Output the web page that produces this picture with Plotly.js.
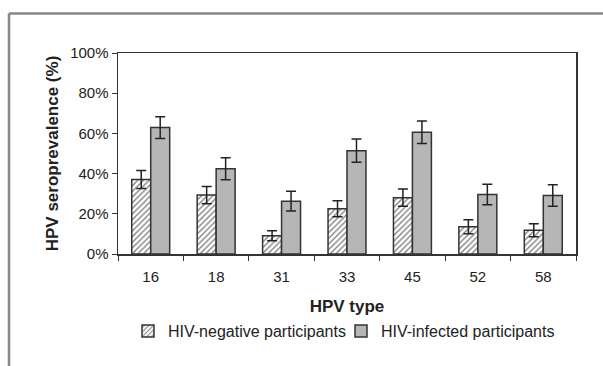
<!DOCTYPE html>
<html>
<head>
<meta charset="utf-8">
<script src="https://cdn.plot.ly/plotly-3.0.1.min.js"></script>
<style>html,body{margin:0;padding:0;background:#fff;}#chart{width:603px;height:366px;}</style>
</head>
<body>
<div id="chart"></div>
<script>
const hpvTypes = ['16', '18', '31', '33', '45', '52', '58'];
const hivNegative = [37.1, 29.3, 9.1, 22.5, 28.0, 13.6, 11.8];
const hivNegativeErr = [4.5, 4.3, 2.5, 4.0, 4.3, 3.5, 3.2];
const hivInfected = [62.9, 42.4, 26.3, 51.4, 60.6, 29.6, 29.1];
const hivInfectedErr = [5.4, 5.5, 4.9, 5.8, 5.6, 5.1, 5.3];
const seriesNames = ['HIV-negative participants', 'HIV-infected participants'];

const W = 603, H = 366;
const margin = {l: 118, r: 27, t: 53, b: 112};
const pw = W - margin.l - margin.r, ph = H - margin.t - margin.b;
const px2x = x => (x - margin.l) / pw;
const px2y = y => 1 - (y - margin.t) / ph;

const font = 'Liberation Sans, Arial, sans-serif';
const errStyle = {type: 'data', visible: true, color: '#222', thickness: 1.5, width: 5};

const traces = [
  {
    type: 'bar', name: seriesNames[0], x: hpvTypes, y: hivNegative, legend: 'legend',
    error_y: Object.assign({array: hivNegativeErr}, errStyle),
    marker: {color: '#ffffff', line: {color: '#333', width: 1.5},
             pattern: {shape: '/', fgcolor: '#777', bgcolor: '#ffffff', size: 4, solidity: 0.3}}
  },
  {
    type: 'bar', name: seriesNames[1], x: hpvTypes, y: hivInfected, legend: 'legend2',
    error_y: Object.assign({array: hivInfectedErr}, errStyle),
    marker: {color: '#b6b6b6', line: {color: '#333', width: 1.5}}
  }
];

const legendBase = {orientation: 'h', xanchor: 'left', y: px2y(331), yanchor: 'middle',
                    font: {size: 16, color: '#222'}, itemwidth: 30, bgcolor: 'rgba(0,0,0,0)'};

const layout = {
  width: W, height: H, margin: margin,
  paper_bgcolor: '#fff', plot_bgcolor: '#fff',
  font: {family: font, color: '#222', size: 15},
  barmode: 'group', bargap: 0.42, bargroupgap: 0,
  showlegend: true,
  legend: Object.assign({x: px2x(128)}, legendBase),
  legend2: Object.assign({x: px2x(341)}, legendBase),
  xaxis: {
    type: 'category', showline: true, linecolor: '#333', linewidth: 1.5, mirror: true,
    ticks: 'outside', tickson: 'boundaries', ticklen: 5, tickcolor: '#333', tickwidth: 1,
    ticklabelstandoff: 8,
    showgrid: false, zeroline: false, tickfont: {size: 15},
    title: {text: 'HPV type', font: {size: 17, weight: 'bold'}, standoff: 16}
  },
  yaxis: {
    range: [0, 100], dtick: 20, ticksuffix: '%', showline: true, linecolor: '#333', linewidth: 1.5, mirror: true,
    ticks: 'outside', ticklen: 5, tickcolor: '#333', tickwidth: 1,
    showgrid: false, zeroline: false, tickfont: {size: 15},
    title: {text: 'HPV seroprevalence (%)', font: {size: 17, weight: 'bold'}, standoff: 7}
  },
  shapes: [
    {type: 'line', xref: 'paper', yref: 'paper', x0: px2x(9), x1: px2x(610), y0: px2y(13.5), y1: px2y(13.5),
     line: {color: '#888', width: 2.5}},
    {type: 'line', xref: 'paper', yref: 'paper', x0: px2x(9), x1: px2x(9), y0: px2y(13.5), y1: px2y(370),
     line: {color: '#888', width: 2.5}}
  ]
};

Plotly.newPlot('chart', traces, layout, {displayModeBar: false, staticPlot: true});
</script>
</body>
</html>
